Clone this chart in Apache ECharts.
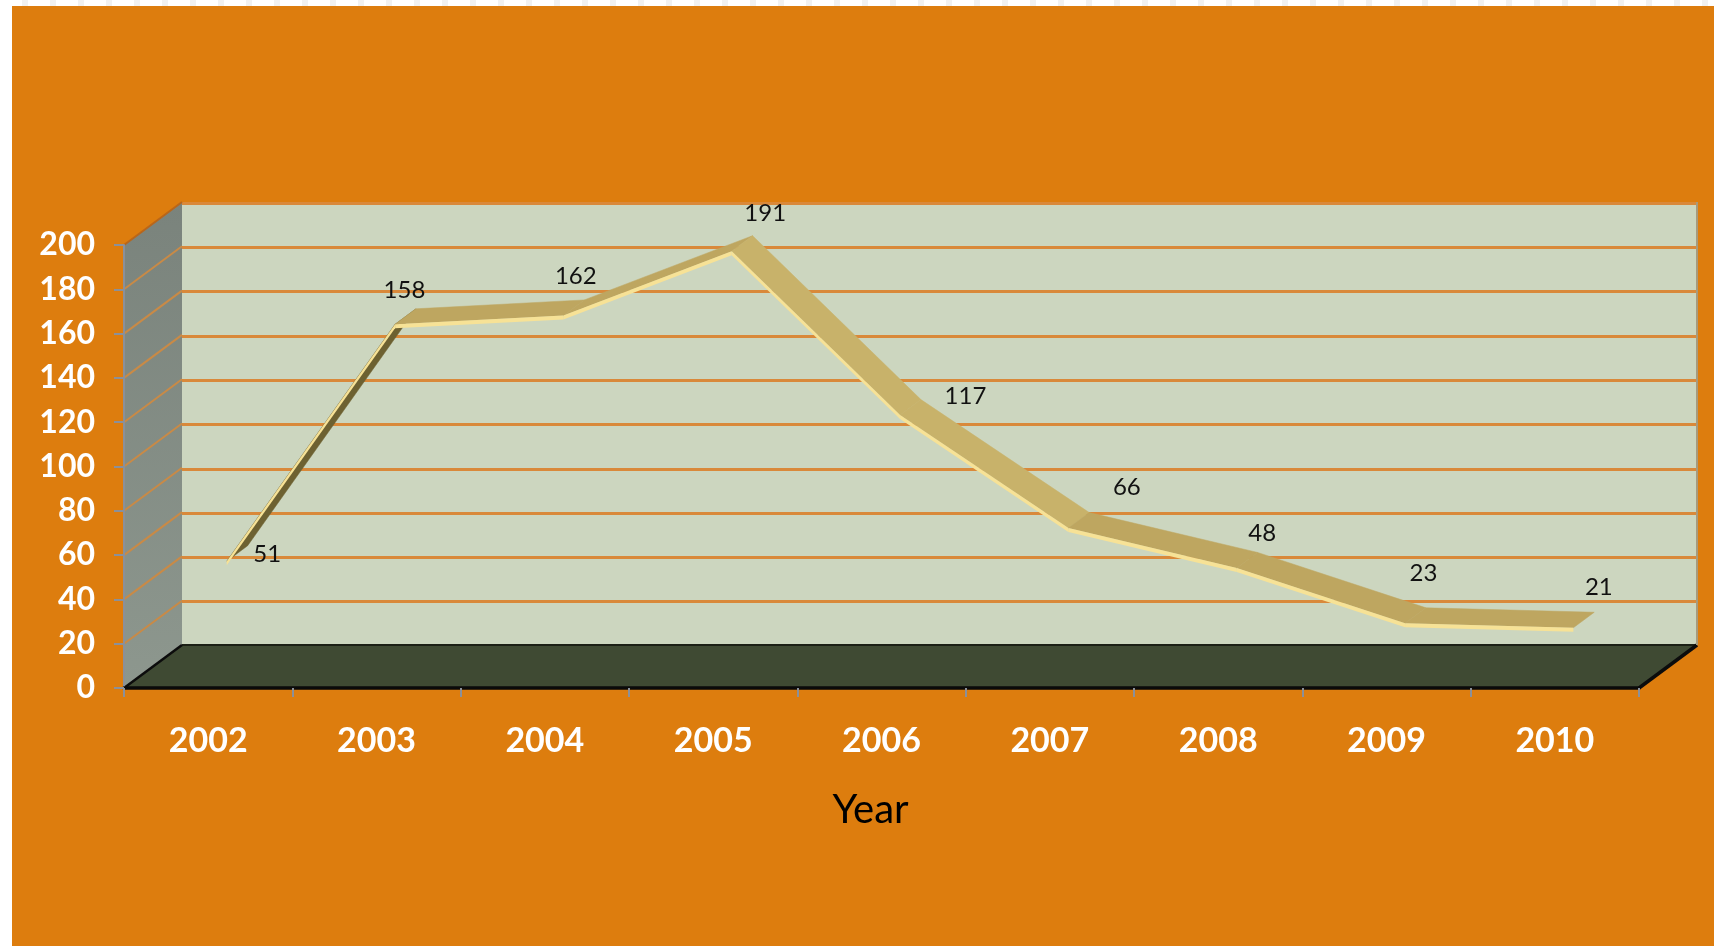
<!DOCTYPE html>
<html>
<head>
<meta charset="utf-8">
<script src="https://cdn.jsdelivr.net/npm/echarts@6/dist/echarts.min.js"></script>
<style>
  html, body { margin:0; padding:0; width:1721px; height:946px; overflow:hidden;
    background:#ffffff; }
  #strip { position:absolute; left:0; top:0; width:1721px; height:6px;
    background:repeating-linear-gradient(90deg,#ffffff 0 22px,#f1f1f1 22px 28px); }
  #panel { position:absolute; left:12px; top:6px; width:1702px; height:940px; background:#dd7d0e; }
  #chart { position:absolute; left:0; top:0; width:1721px; height:946px; }
</style>
</head>
<body>
<div id="strip"></div>
<div id="panel"></div>
<div id="chart"></div>
<script>
// ---- data ----
const years  = ['2002','2003','2004','2005','2006','2007','2008','2009','2010'];
const values = [51, 158, 162, 191, 117, 66, 48, 23, 21];
const yTicks = [0, 20, 40, 60, 80, 100, 120, 140, 160, 180, 200];
const yMin = 0, yMax = 200, yStep = 20;
const xTitle = 'Year';

// ---- layout / style (not data) ----
const DEPTH_X = 58, DEPTH_Y = -43;     // oblique depth of the 3D box
const F1 = 0.32, F2 = 0.68;            // ribbon front/back depth fractions
const STRIP = 4;                       // ribbon front-face thickness
const labelNudge = [[30,1],[-1,-26],[2,-31],[23,-30],[55,-11],[48,-33],[15,-27],[8,-42],[15,-33]];

const chart = echarts.init(document.getElementById('chart'), null, {renderer:'canvas'});

function dep(p, f){ return [p[0] + DEPTH_X*f, p[1] + DEPTH_Y*f]; }

const frameSeries = {
  type:'custom', xAxisIndex:0, yAxisIndex:0, z:1, silent:true,
  data:[[0,0]],
  renderItem:function(params, api){
    const cs = params.coordSys;
    const x0 = cs.x, x1 = cs.x + cs.width, yt = cs.y, yb = cs.y + cs.height;
    const ch = [];
    ch.push({type:'polygon', shape:{points:[[x0,yb],[x0,yt],[x0+DEPTH_X,yt+DEPTH_Y],[x0+DEPTH_X,yb+DEPTH_Y]]},
      style:{fill:new echarts.graphic.LinearGradient(0,0,0,1,[{offset:0,color:'#7a837c'},{offset:1,color:'#8d978e'}])}});
    yTicks.forEach(function(v){
      const y = api.coord([0, v])[1];
      if (v > yMin) ch.push({type:'line', shape:{x1:x0, y1:y, x2:x0+DEPTH_X, y2:y+DEPTH_Y},
        style:{stroke: v === yMax ? '#b9661a' : '#c98a46', lineWidth:2}});
    });
    ch.push({type:'polygon', shape:{points:[[x0,yb],[x1,yb],[x1+DEPTH_X,yb+DEPTH_Y],[x0+DEPTH_X,yb+DEPTH_Y]]},
      style:{fill:'#3f4a33'}});
    ch.push({type:'line', shape:{x1:x0+DEPTH_X, y1:yb+DEPTH_Y, x2:x1+DEPTH_X, y2:yb+DEPTH_Y}, style:{stroke:'#1b2015', lineWidth:2}});
    ch.push({type:'line', shape:{x1:x0, y1:yb, x2:x0+DEPTH_X, y2:yb+DEPTH_Y}, style:{stroke:'#0c0c0c', lineWidth:2.5}});
    ch.push({type:'line', shape:{x1:x1, y1:yb, x2:x1+DEPTH_X, y2:yb+DEPTH_Y}, style:{stroke:'#0c0c0c', lineWidth:3.5}});
    ch.push({type:'line', shape:{x1:x1+DEPTH_X, y1:yt+DEPTH_Y, x2:x1+DEPTH_X, y2:yb+DEPTH_Y}, style:{stroke:'#a79a7c', lineWidth:2}});
    return {type:'group', children:ch};
  }
};

const ribbonSeries = {
  type:'custom', xAxisIndex:0, yAxisIndex:0, z:3, silent:true,
  data: values.map(function(v,i){ return [i, v]; }),
  renderItem:function(params, api){
    const i = api.value(0);
    if (i >= values.length - 1) return {type:'group', children:[]};
    const a = api.coord([i, api.value(1)]);
    const b = api.coord([i+1, values[i+1]]);
    const A = dep(a,F1), B = dep(b,F1), C = dep(b,F2), D = dep(a,F2);
    const cross = (B[0]-A[0])*(D[1]-A[1]) - (B[1]-A[1])*(D[0]-A[0]);
    const slope = Math.abs((b[1]-a[1])/(b[0]-a[0]));
    const fill = cross > 0 ? '#6d6131' : (slope < 0.5 ? '#bea660' : '#c8b26a');
    return {type:'group', children:[
      {type:'polygon', shape:{points:[A,B,C,D]}, style:{fill:fill, stroke:fill, lineWidth:0.5}},
      {type:'polygon', shape:{points:[A,B,[B[0],B[1]+STRIP],[A[0],A[1]+STRIP]]}, style:{fill:'#f7e296'}}
    ]};
  }
};

const labelSeries = {
  type:'custom', xAxisIndex:0, yAxisIndex:0, z:4, silent:true,
  data: values.map(function(v,i){ return [i, v]; }),
  renderItem:function(params, api){
    const i = api.value(0);
    const p = dep(api.coord([i, api.value(1)]), 0.5);
    const n = labelNudge[i];
    return {type:'text', x:p[0]+n[0], y:p[1]+n[1],
      style:{text:String(api.value(1)), fill:'#111111', fontSize:24, fontFamily:'Lato',
             align:'center', verticalAlign:'middle'}};
  }
};

chart.setOption({
  animation:false,
  backgroundColor:'transparent',
  grid:[
    {left:124, top:245, width:1515, height:443, show:false},
    {left:181, top:203, width:1516, height:443, show:true, backgroundColor:'#ccd6bf', borderWidth:0}
  ],
  xAxis:[
    {type:'category', gridIndex:0, data:years, boundaryGap:true, z:10,
     axisLine:{show:true, lineStyle:{color:'#0a0a0a', width:3.5}},
     axisTick:{show:true, length:9, lineStyle:{color:'#8b9099', width:2}},
     axisLabel:{color:'#ffffff', fontSize:34, fontWeight:'bold', fontFamily:'Lato', margin:36},
     name:xTitle, nameLocation:'middle', nameGap:102,
     nameTextStyle:{color:'#000000', fontSize:40, fontFamily:'Lato', padding:[0,22,0,0]}},
    {type:'category', gridIndex:1, data:years, boundaryGap:true, show:false}
  ],
  yAxis:[
    {type:'value', gridIndex:0, min:yMin, max:yMax, interval:yStep, z:10,
     axisLine:{show:true, lineStyle:{color:'#8b9099', width:2}},
     axisTick:{show:true, length:10, lineStyle:{color:'#8b9099', width:2}},
     axisLabel:{color:'#ffffff', fontSize:32, fontWeight:'bold', fontFamily:'Lato', margin:29},
     splitLine:{show:false}},
    {type:'value', gridIndex:1, min:yMin, max:yMax, interval:yStep,
     axisLine:{show:false}, axisTick:{show:false}, axisLabel:{show:false},
     splitLine:{show:true, lineStyle:{color:'#d9893a', width:3}}}
  ],
  series:[frameSeries, ribbonSeries, labelSeries]
});
</script>
</body>
</html>
